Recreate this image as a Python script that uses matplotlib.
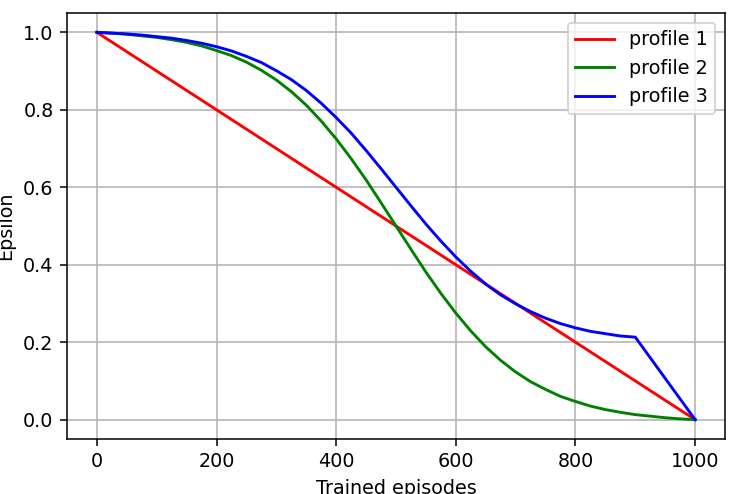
import matplotlib
matplotlib.use('Agg')
import matplotlib.pyplot as plt

# episodes / epsilon values
x_p1 = [0, 1000]
eps_p1 = [1.0, 0.0]

x_p2 = [0, 25, 50, 75, 100, 125, 150, 175, 200, 225, 250, 275, 300, 325, 350, 375,
        400, 425, 450, 475, 500, 525, 550, 575, 600, 625, 650, 675, 700, 725, 750,
        775, 800, 825, 850, 875, 900, 925, 950, 975, 1000]
eps_p2 = [1.0, 0.998, 0.995, 0.991, 0.987, 0.981, 0.974, 0.965, 0.953, 0.940, 0.923,
          0.902, 0.877, 0.847, 0.812, 0.771, 0.725, 0.674, 0.619, 0.560, 0.500,
          0.440, 0.381, 0.326, 0.275, 0.229, 0.188, 0.153, 0.123, 0.098, 0.078,
          0.060, 0.047, 0.035, 0.026, 0.019, 0.013, 0.009, 0.005, 0.002, 0.0]

x_p3 = [0, 25, 50, 75, 100, 125, 150, 175, 200, 225, 250, 275, 300, 325, 350, 375,
        400, 425, 450, 475, 500, 525, 550, 575, 600, 625, 650, 675, 700, 725, 750,
        775, 800, 825, 850, 875, 900, 1000]
eps_p3 = [1.0, 0.998, 0.996, 0.993, 0.989, 0.985, 0.979, 0.972, 0.963, 0.952, 0.938,
          0.922, 0.901, 0.878, 0.850, 0.817, 0.780, 0.740, 0.695, 0.648, 0.600,
          0.552, 0.505, 0.461, 0.420, 0.383, 0.350, 0.322, 0.299, 0.279, 0.262,
          0.248, 0.237, 0.228, 0.222, 0.216, 0.213, 0.0]

fig = plt.figure(figsize=(732 / 138, 494 / 138), dpi=138)
ax = fig.add_axes([0.0915, 0.1113, 0.899, 0.8624])

ax.plot(x_p1, eps_p1, color='red', label='profile 1')
ax.plot(x_p2, eps_p2, color='green', label='profile 2')
ax.plot(x_p3, eps_p3, color='blue', label='profile 3')

ax.set_xlabel('Trained episodes')
ax.set_ylabel('Epsilon')
ax.set_xticks([0, 200, 400, 600, 800, 1000])
ax.set_yticks([0.0, 0.2, 0.4, 0.6, 0.8, 1.0])
ax.grid(True)
ax.legend(loc='upper right')

fig.savefig('out.png', dpi=138)
